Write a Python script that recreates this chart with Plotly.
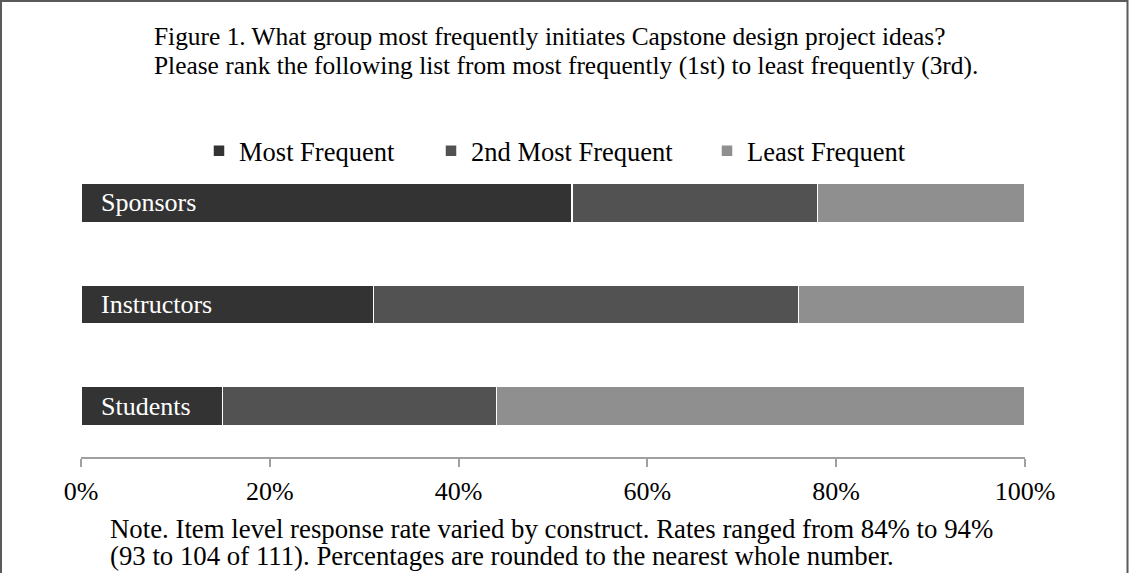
import plotly.graph_objects as go

categories = ["Sponsors", "Instructors", "Students"]
series_names = ["Most Frequent", "2nd Most Frequent", "Least Frequent"]
most_frequent = [52, 31, 15]
second_most = [26, 45, 29]
least_frequent = [22, 24, 56]
tick_vals = [0, 20, 40, 60, 80, 100]
tick_text = ["0%", "20%", "40%", "60%", "80%", "100%"]
colors = ["#333333", "#525252", "#8f8f8f"]

title_lines = [
    "Figure 1. What group most frequently initiates Capstone design project ideas?",
    "Please rank the following list from most frequently (1st) to least frequently (3rd).",
]
note_lines = [
    "Note. Item level response rate varied by construct. Rates ranged from 84% to 94%",
    "(93 to 104 of 111). Percentages are rounded to the nearest whole number.",
]

W, H = 1129, 573
L, R, T, B = 81, 104, 152, 116
PW = W - L - R
PH = H - T - B


def px(x):
    return (x - L) / PW


def py(y):
    return (H - B - y) / PH


FONT = "Liberation Serif, Times New Roman, serif"

fig = go.Figure()
values = [most_frequent, second_most, least_frequent]
legend_ids = ["legend", "legend2", "legend3"]
for name, vals, col, lg in zip(series_names, values, colors, legend_ids):
    fig.add_trace(go.Bar(
        y=categories, x=vals, name=name, orientation="h",
        marker=dict(color=col, line=dict(color="white", width=1.5)),
        legend=lg, hoverinfo="x+y+name",
    ))

legend_text_x = [239, 471, 747]
legend_common = dict(
    orientation="h", yanchor="middle", xanchor="left",
    font=dict(family=FONT, size=26.5, color="black"),
    bgcolor="rgba(0,0,0,0)", borderwidth=0,
)
layout_legends = {}
for lg, tx in zip(legend_ids, legend_text_x):
    layout_legends[lg] = dict(legend_common, x=px(tx - 40), y=py(151))

annotations = []
for i, cat in enumerate(categories):
    annotations.append(dict(
        x=0, y=cat, xref="x", yref="y", text=cat, showarrow=False,
        xanchor="left", yanchor="middle", xshift=18,
        font=dict(family=FONT, size=26, color="white"),
    ))
for txt, yc in zip(title_lines, [36, 65]):
    annotations.append(dict(
        x=px(152), y=py(yc), xref="paper", yref="paper", text=txt,
        showarrow=False, xanchor="left", yanchor="middle",
        font=dict(family=FONT, size=25.4, color="black"),
    ))
for txt, yc in zip(note_lines, [529, 556]):
    annotations.append(dict(
        x=px(108), y=py(yc), xref="paper", yref="paper", text=txt,
        showarrow=False, xanchor="left", yanchor="middle",
        font=dict(family=FONT, size=26.8, color="black"),
    ))

shapes = [dict(
    type="rect", xref="paper", yref="paper",
    x0=px(1), x1=px(1127.5), y0=py(580), y1=py(1),
    line=dict(color="#5a5a5a", width=2), fillcolor="rgba(0,0,0,0)", layer="above",
)]

fig.update_layout(
    width=W, height=H,
    margin=dict(l=L, r=R, t=T, b=B, pad=0),
    paper_bgcolor="white", plot_bgcolor="white",
    barmode="stack", bargap=0.617,
    showlegend=True,
    annotations=annotations,
    shapes=shapes,
    xaxis=dict(
        range=[0, 100], tickvals=tick_vals, ticktext=tick_text,
        showgrid=False, zeroline=False, showline=True,
        linecolor="#a0a0a0", linewidth=1.5,
        ticks="outside", ticklen=8, tickcolor="#a0a0a0", tickwidth=1.5,
        ticklabelstandoff=2,
        tickfont=dict(family=FONT, size=26, color="black"),
        fixedrange=True,
    ),
    yaxis=dict(
        categoryorder="array", categoryarray=categories[::-1],
        showticklabels=False, showgrid=False, zeroline=False, showline=False,
        range=[-0.5, 2.5], fixedrange=True,
    ),
    **layout_legends,
)

fig.write_html("out.html")
